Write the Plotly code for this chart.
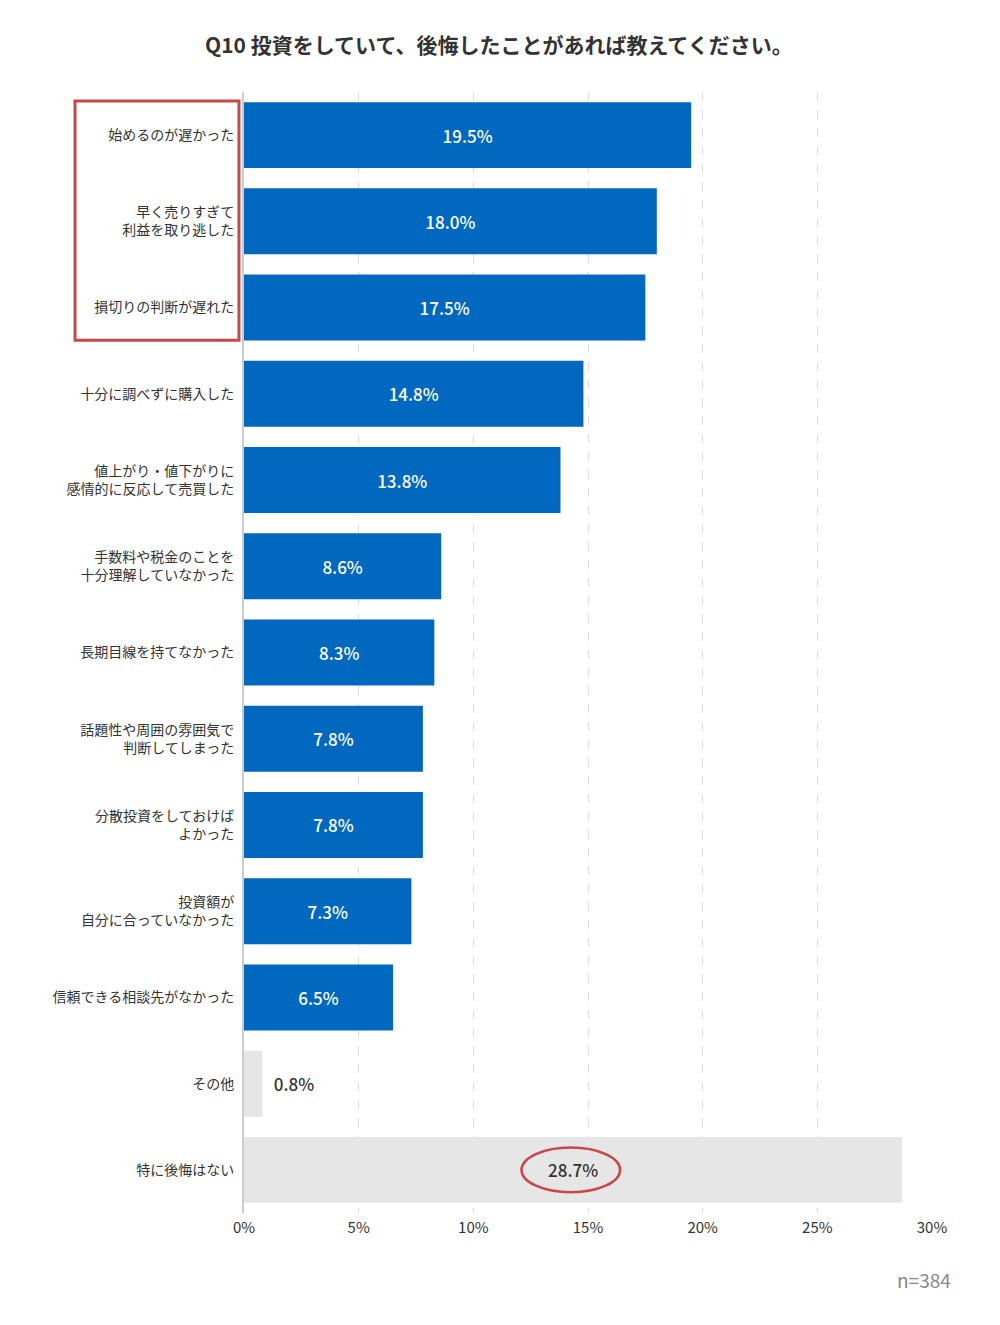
import plotly.graph_objects as go

# data
categories = [
    "始めるのが遅かった",
    "早く売りすぎて<br>利益を取り逃した",
    "損切りの判断が遅れた",
    "十分に調べずに購入した",
    "値上がり・値下がりに<br>感情的に反応して売買した",
    "手数料や税金のことを<br>十分理解していなかった",
    "長期目線を持てなかった",
    "話題性や周囲の雰囲気で<br>判断してしまった",
    "分散投資をしておけば<br>よかった",
    "投資額が<br>自分に合っていなかった",
    "信頼できる相談先がなかった",
    "その他",
    "特に後悔はない",
]
values = [19.5, 18.0, 17.5, 14.8, 13.8, 8.6, 8.3, 7.8, 7.8, 7.3, 6.5, 0.8, 28.7]
x_ticks = [0, 5, 10, 15, 20, 25, 30]
x_tick_labels = ["0%", "5%", "10%", "15%", "20%", "25%", "30%"]

BLUE = "#0068bf"
GRAY = "#e6e6e6"
FONT = "Noto Sans CJK JP"

colors = [BLUE] * 11 + [GRAY, GRAY]
text_colors = ["white"] * 11 + ["#333333", "#333333"]
positions = ["inside"] * 11 + ["outside", "inside"]
# outside label gets a little gap from the bar end
labels = [("\u2002" if p == "outside" else "") + "{:.1f}%".format(v)
          for v, p in zip(values, positions)]

fig = go.Figure()
fig.add_trace(go.Bar(
    x=values, y=categories, orientation="h",
    marker=dict(color=colors, line=dict(width=0)),
    width=0.765,
    text=labels,
    textposition=positions,
    insidetextanchor="middle",
    textfont=dict(family=FONT, size=17, color=text_colors, weight=500),
    cliponaxis=False,
    hoverinfo="skip",
))

# red highlight box around the top three labels
fig.add_shape(type="rect", xref="paper", yref="y",
              x0=-0.2456, x1=-0.0073, y0=-0.395, y1=2.38,
              line=dict(color="#c8474a", width=3))
# red ellipse around 28.7%
fig.add_shape(type="circle", xref="x", yref="y",
              x0=12.1, x1=16.4, y0=11.74, y1=12.26,
              line=dict(color="#c8474a", width=2.5))

fig.add_annotation(text="Q10 投資をしていて、後悔したことがあれば教えてください。",
                   xref="paper", yref="paper", x=0.37, y=1.0, yanchor="bottom",
                   yshift=31, showarrow=False,
                   font=dict(family=FONT, size=21, color="#333333", weight="bold"))
fig.add_annotation(text="n=384", xref="paper", yref="paper", x=1.03, y=0,
                   xanchor="right", yanchor="top", yshift=-51, showarrow=False,
                   font=dict(family=FONT, size=19, color="#888888"))

fig.update_layout(
    width=1000, height=1325,
    margin=dict(l=236, r=76, t=84, b=120),
    paper_bgcolor="white", plot_bgcolor="white",
    showlegend=False,
    font=dict(family=FONT, color="#333333"),
    bargap=0.235,
)
fig.update_xaxes(
    range=[0, 30], tickvals=x_ticks, ticktext=x_tick_labels,
    showgrid=True, gridcolor="#dddddd", griddash="dash", gridwidth=1,
    zeroline=False, showline=False,
    tickfont=dict(family=FONT, size=15, color="#333333"),
    ticks="", ticklabelstandoff=4, fixedrange=True,
)
fig.update_yaxes(
    autorange="reversed",
    showline=True, linecolor="#cccccc", linewidth=2,
    showgrid=False, ticks="", ticklabelstandoff=5,
    tickfont=dict(family=FONT, size=14, color="#333333"),
    fixedrange=True,
)

fig.write_html("out.html")
